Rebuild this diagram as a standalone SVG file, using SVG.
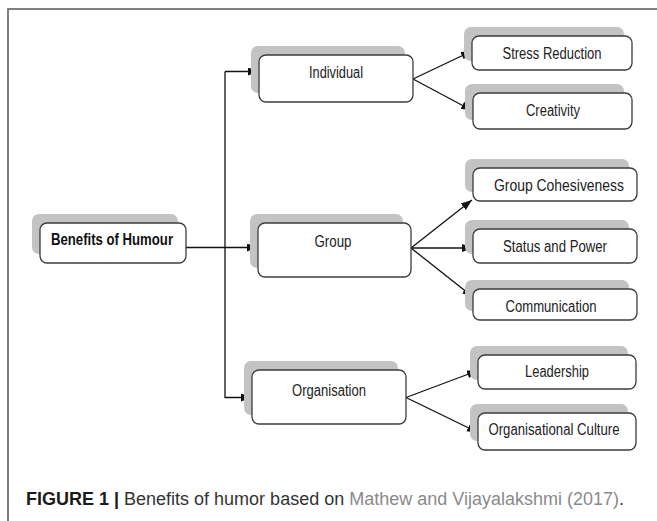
<svg xmlns="http://www.w3.org/2000/svg" width="657" height="521" viewBox="0 0 657 521">
<style>
.shadow{fill:#c3c3c3;}
.box{fill:#ffffff;stroke:#3c3c3c;stroke-width:1.3;}
.lbl{font-family:"Liberation Sans",Arial,sans-serif;font-size:16px;fill:#222;text-anchor:middle;}
.bold{font-weight:bold;fill:#111;}
.conn{stroke:#111;stroke-width:1.3;fill:none;}
.frame{stroke:#555;stroke-width:1.5;fill:none;}
.cap{font-family:"Liberation Sans",Arial,sans-serif;font-size:17.5px;fill:#333;}
</style>
<defs>
<marker id="ah" markerUnits="userSpaceOnUse" markerWidth="12" markerHeight="9" refX="11" refY="4" orient="auto">
<path d="M0,0 L11,4 L0,8 z" fill="#111"/>
</marker>
</defs>
<rect width="657" height="521" fill="#ffffff"/>
<path class="frame" d="M657,9 L8,9 L8,521"/>

<g id="connectors">
<line class="conn" x1="186" y1="247.5" x2="258" y2="247.5" marker-end="url(#ah)"/>
<polyline class="conn" points="225,71.5 225,397.5 252,397.5" marker-end="url(#ah)"/>
<path class="conn" d="M225,71.5 L259,71.5" marker-end="url(#ah)"/>
<line class="conn" x1="413" y1="79" x2="472" y2="51" marker-end="url(#ah)"/>
<line class="conn" x1="413" y1="79" x2="472" y2="110.5" marker-end="url(#ah)"/>
<line class="conn" x1="411" y1="248" x2="472" y2="200" marker-end="url(#ah)"/>
<line class="conn" x1="411" y1="248" x2="473" y2="248" marker-end="url(#ah)"/>
<line class="conn" x1="411" y1="248" x2="473" y2="297" marker-end="url(#ah)"/>
<line class="conn" x1="406" y1="397.5" x2="478" y2="370.5" marker-end="url(#ah)"/>
<line class="conn" x1="406" y1="397.5" x2="478" y2="432.5" marker-end="url(#ah)"/>
</g>

<g id="benefits">
<rect class="shadow" x="32" y="214" width="146" height="40" rx="7"/>
<rect class="box" x="40" y="223" width="146" height="40" rx="7"/>
<text class="lbl bold" x="112" y="245" textLength="122" lengthAdjust="spacingAndGlyphs">Benefits of Humour</text>
</g>

<g id="individual">
<rect class="shadow" x="251" y="46" width="154" height="47" rx="7"/>
<rect class="box" x="259" y="55" width="154" height="47" rx="7"/>
<text class="lbl" x="336" y="77.5" textLength="54" lengthAdjust="spacingAndGlyphs">Individual</text>
</g>

<g id="group">
<rect class="shadow" x="250" y="214" width="153" height="54" rx="7"/>
<rect class="box" x="258" y="223" width="153" height="54" rx="7"/>
<text class="lbl" x="333" y="247" textLength="37" lengthAdjust="spacingAndGlyphs">Group</text>
</g>

<g id="organisation">
<rect class="shadow" x="244" y="361" width="154" height="54" rx="7"/>
<rect class="box" x="252" y="370" width="154" height="54" rx="7"/>
<text class="lbl" x="329" y="395.5" textLength="74" lengthAdjust="spacingAndGlyphs">Organisation</text>
</g>

<g id="stress">
<rect class="shadow" x="464" y="27" width="160" height="34" rx="7"/>
<rect class="box" x="472" y="36" width="160" height="34" rx="7"/>
<text class="lbl" x="552" y="58.5" textLength="99" lengthAdjust="spacingAndGlyphs">Stress Reduction</text>
</g>

<g id="creativity">
<rect class="shadow" x="465" y="84" width="159" height="36" rx="7"/>
<rect class="box" x="473" y="93" width="159" height="36" rx="7"/>
<text class="lbl" x="553" y="115.5" textLength="54" lengthAdjust="spacingAndGlyphs">Creativity</text>
</g>

<g id="cohesiveness">
<rect class="shadow" x="465" y="159" width="164" height="33" rx="7"/>
<rect class="box" x="473" y="168" width="164" height="33" rx="7"/>
<text class="lbl" x="559" y="190.5" textLength="130" lengthAdjust="spacingAndGlyphs">Group Cohesiveness</text>
</g>

<g id="status">
<rect class="shadow" x="465" y="220" width="164" height="34" rx="7"/>
<rect class="box" x="473" y="229" width="164" height="34" rx="7"/>
<text class="lbl" x="555" y="251.5" textLength="104" lengthAdjust="spacingAndGlyphs">Status and Power</text>
</g>

<g id="communication">
<rect class="shadow" x="465" y="280" width="164" height="31" rx="7"/>
<rect class="box" x="473" y="289" width="164" height="31" rx="7"/>
<text class="lbl" x="551" y="311.5" textLength="91" lengthAdjust="spacingAndGlyphs">Communication</text>
</g>

<g id="leadership">
<rect class="shadow" x="470" y="346" width="158" height="34" rx="7"/>
<rect class="box" x="478" y="355" width="158" height="34" rx="7"/>
<text class="lbl" x="557" y="377" textLength="64" lengthAdjust="spacingAndGlyphs">Leadership</text>
</g>

<g id="culture">
<rect class="shadow" x="470" y="404" width="158" height="37" rx="7"/>
<rect class="box" x="478" y="413" width="158" height="37" rx="7"/>
<text class="lbl" x="554" y="434.5" textLength="131" lengthAdjust="spacingAndGlyphs">Organisational Culture</text>
</g>

<text class="cap" x="26" y="505" textLength="598" lengthAdjust="spacingAndGlyphs"><tspan font-weight="bold" fill="#1a1a1a">FIGURE 1 | </tspan><tspan>Benefits of humor based on </tspan><tspan fill="#8a8a8a">Mathew and Vijayalakshmi (2017)</tspan><tspan>.</tspan></text>
</svg>
